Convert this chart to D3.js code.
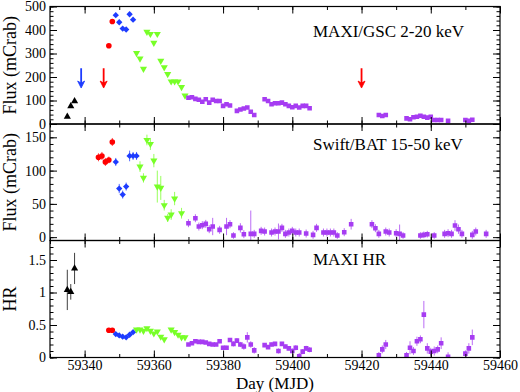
<!DOCTYPE html>
<html>
<head>
<meta charset="utf-8">
<script src="https://cdn.jsdelivr.net/npm/d3@7"></script>
<style>
  html, body { margin: 0; padding: 0; background: #fff; }
  svg { display: block; }
</style>
</head>
<body>
<svg id="chart" width="520" height="392"></svg>
<script>
// each row: [day (MJD), value, error]
const gscBlack = [[59335.0, 31, 4], [59336.0, 76, 5], [59337.1, 97, 5]];
const gscRed = [[59347, 333, 5], [59348, 436, 6]];
const gscBlue = [[59349, 463, 6], [59350, 433, 6], [59351, 406, 6], [59352, 402, 6], [59353, 467, 6], [59354, 444, 6]];
const gscGreen = [[59355, 302, 5], [59356, 278, 5], [59357, 235, 5], [59358, 392, 6], [59359, 383, 6],
  [59360, 345, 6], [59361, 383, 6], [59362, 269, 5], [59363, 241, 5], [59364, 212, 5], [59365, 181, 5],
  [59366, 181, 5], [59367, 181, 5], [59368, 157, 5], [59369, 121, 4]];
const gscPurple = [[59370, 112, 4], [59371, 114, 4], [59372, 107, 4], [59373, 103, 4], [59374, 95, 4],
  [59375, 105, 4], [59376, 91, 4], [59377, 103, 4], [59378, 98, 4], [59379, 98, 4], [59380, 77, 4],
  [59381, 84, 4], [59382, 79, 4], [59384, 56, 4], [59385, 62, 4], [59386, 66, 4], [59387, 70, 4],
  [59388, 52, 4], [59389, 38, 4], [59392, 105, 4], [59393, 98, 4], [59394, 84, 4], [59395, 88, 4],
  [59396, 88, 4], [59397, 91, 4], [59398, 84, 4], [59399, 77, 4], [59400, 71, 4], [59401, 77, 4],
  [59402, 70, 4], [59403, 77, 4], [59404, 77, 4], [59405, 67, 4], [59425, 38, 4], [59426, 34, 4],
  [59427, 38, 4], [59433, 24, 4], [59434, 20, 4], [59435, 29, 4], [59436, 31, 4], [59437, 35, 4],
  [59438, 31, 4], [59439, 27, 4], [59440, 31, 4], [59441, 17, 4], [59442, 17, 4], [59443, 17, 4],
  [59445, 14, 4], [59450, 17, 4], [59451, 14, 4], [59452, 18, 4]];
const arrowBlueDays = [59339];
const arrowRedDays = [59345.5, 59420];
const arrowFrom = 237, arrowTo = 153;

const batRed = [[59344, 120, 6], [59345, 122, 6], [59346, 113, 6], [59347, 116, 5], [59348, 143, 6]];
const batBlue = [[59349, 113, 6], [59350, 73, 7], [59351, 64, 6], [59352, 76, 6], [59353, 122, 8],
  [59354, 122, 6], [59355, 122, 6]];
const batGreen = [[59356, 106, 8], [59357, 89, 7], [59358, 146, 8], [59359, 140, 9], [59360, 115, 10],
  [59361, 76, 24], [59362, 74, 18], [59363, 48, 8], [59364, 29, 6], [59365, 34, 8], [59366, 58, 10],
  [59368, 36, 8]];
const batPurple = [[59370, 21, 6], [59372, 28.5, 6], [59373, 16, 6], [59374, 18, 6], [59375, 20, 6],
  [59376, 12, 6], [59377, 16, 13], [59379, 11, 6], [59381, 16, 13], [59382, 19.5, 6], [59383, 2.5, 5],
  [59385, 14, 7], [59386, 4.5, 6], [59388, 5, 35], [59389, 5, 6], [59391, 9.5, 6], [59392, 8.5, 6],
  [59394, 7, 6], [59395, 8.5, 6], [59396, 8.5, 12], [59397, 14, 6], [59398, 5, 6], [59399, 7, 6],
  [59400, 9.5, 6], [59401, 7, 6], [59402, 7, 6], [59404, 5.5, 6], [59406, 3.5, 6], [59407, 14, 6],
  [59409, 7, 6], [59410, 7, 6], [59411, 7, 6], [59412, 7, 6], [59413, 2.5, 5], [59415, 7.5, 6],
  [59417, 19.5, 8], [59423, 19.5, 6], [59424, 13.5, 6], [59425, 5, 6], [59427, 8.5, 6], [59428, 7, 6],
  [59430, 6, 6], [59431, 5, 14], [59432, 2.5, 5], [59437, 2.5, 5], [59438, 3.5, 5], [59439, 4.5, 5],
  [59441, 2.5, 5], [59444, 5, 6], [59445, 6, 6], [59446, 5, 6], [59447, 17.5, 8], [59448, 12, 7],
  [59449, 5, 6], [59452, 3.5, 6], [59453, 8.5, 6], [59456, 5, 6]];

const hrBlack = [[59335, 1.04, 0.31], [59336, 1.01, 0.12], [59337.1, 1.37, 0.24]];
const hrRed = [[59347, 0.42, 0.01], [59348, 0.42, 0.01]];
const hrBlue = [[59349, 0.36, 0.01], [59350, 0.34, 0.01], [59351, 0.32, 0.01], [59352, 0.31, 0.01],
  [59353, 0.35, 0.01], [59354, 0.39, 0.01]];
const hrGreen = [[59355, 0.43, 0.015], [59356, 0.43, 0.015], [59357, 0.41, 0.015], [59358, 0.45, 0.015],
  [59359, 0.41, 0.015], [59360, 0.37, 0.015], [59361, 0.40, 0.015], [59362, 0.32, 0.02], [59363, 0.28, 0.02],
  [59365, 0.43, 0.02], [59366, 0.39, 0.02], [59367, 0.35, 0.02], [59368, 0.31, 0.02], [59369, 0.31, 0.02]];
const hrPurple = [[59370, 0.20, 0.02], [59371, 0.22, 0.02], [59372, 0.25, 0.02], [59373, 0.24, 0.02],
  [59374, 0.24, 0.02], [59375, 0.23, 0.02], [59376, 0.21, 0.02], [59377, 0.20, 0.02], [59378, 0.20, 0.02],
  [59379, 0.25, 0.03], [59380, 0.15, 0.03], [59381, 0.15, 0.03], [59382, 0.27, 0.03], [59383, 0.21, 0.04],
  [59384, 0.26, 0.04], [59385, 0.20, 0.04], [59386, 0.17, 0.05], [59387, 0.31, 0.08], [59388, 0.20, 0.05],
  [59389, 0.11, 0.05], [59392, 0.19, 0.03], [59393, 0.16, 0.03], [59394, 0.20, 0.03], [59395, 0.21, 0.03],
  [59396, 0.10, 0.04], [59397, 0.21, 0.03], [59398, 0.17, 0.03], [59399, 0.14, 0.03], [59400, 0.10, 0.04],
  [59401, 0.15, 0.04], [59402, 0.02, 0.05], [59403, 0.09, 0.04], [59404, 0.14, 0.04], [59405, 0.12, 0.04],
  [59425, 0.035, 0.05], [59426, 0.125, 0.06], [59427, 0.20, 0.07], [59433, 0.035, 0.05], [59434, 0.15, 0.10],
  [59435, 0.10, 0.06], [59436, 0.25, 0.07], [59437, 0.28, 0.06], [59438, 0.66, 0.21], [59439, 0.14, 0.08],
  [59440, 0.09, 0.06], [59441, 0.10, 0.07], [59442, 0.125, 0.06], [59443, 0.22, 0.09], [59445, 0.01, 0.07],
  [59450, 0.06, 0.05], [59451, 0.14, 0.08], [59452, 0.31, 0.12]];

const xTicksMajor = [59340, 59360, 59380, 59400, 59420, 59440, 59460];
const xTicksMinor = d3.range(59330, 59461, 10);

const BLACK = "#000", RED = "#ff0000", BLUE = "#1e3cff", GREEN = "#78ff28", PURPLE = "#a63cf2";
const serif = '"Liberation Serif", "Times New Roman", serif';

const svg = d3.select("#chart");
const L = 50, R = 500;
const x = d3.scaleLinear().domain([59330, 59460]).range([L, R]);

const panels = [
  { top: 6.5, bottom: 124, domain: [0, 500], major: d3.range(0, 501, 100), minor: d3.range(0, 501, 20),
    title: "MAXI/GSC 2-20 keV", titleY: 37, label: "Flux (mCrab)",
    series: [[gscBlack, BLACK, "up"], [gscRed, RED, "circle"], [gscBlue, BLUE, "diamond"],
             [gscGreen, GREEN, "down"], [gscPurple, PURPLE, "square"]], xerr: 0 },
  { top: 124, bottom: 240.5, domain: [-5, 170], major: [0, 50, 100, 150], minor: d3.range(0, 171, 10),
    title: "Swift/BAT 15-50 keV", titleY: 150, label: "Flux (mCrab)",
    series: [[batRed, RED, "circle"], [batBlue, BLUE, "diamond"], [batGreen, GREEN, "down"],
             [batPurple, PURPLE, "square"]], xerr: 0.5 },
  { top: 240.5, bottom: 357.5, domain: [0, 1.8], major: [0, 0.5, 1, 1.5], minor: d3.range(0, 18).map(d => d / 10),
    title: "MAXI HR", titleY: 265, label: "HR",
    series: [[hrBlack, BLACK, "up"], [hrRed, RED, "circle"], [hrBlue, BLUE, "diamond"],
             [hrGreen, GREEN, "down"], [hrPurple, PURPLE, "square"]], xerr: 0 }
];

function marker(shape) {
  if (shape === "circle") return d3.symbol(d3.symbolCircle, 25)();
  if (shape === "square") return d3.symbol(d3.symbolSquare, 21)();
  if (shape === "diamond") return d3.symbol(d3.symbolSquare, 20)();
  return d3.symbol(d3.symbolTriangle, 22)();
}
function markerRot(shape) {
  if (shape === "diamond") return " rotate(45)";
  if (shape === "down") return " rotate(180)";
  return "";
}

function styleAxis(g) {
  g.select(".domain").remove();
  g.attr("font-family", serif).attr("font-size", 14);
  g.selectAll("line").attr("stroke", "#000");
  g.selectAll("text").attr("fill", "#000");
}

panels.forEach((p, i) => {
  const y = d3.scaleLinear().domain(p.domain).range([p.bottom, p.top]);
  const clipId = "clip" + i;
  svg.append("clipPath").attr("id", clipId)
    .append("rect").attr("x", L).attr("y", p.top).attr("width", R - L).attr("height", p.bottom - p.top);

  const plot = svg.append("g").attr("clip-path", `url(#${clipId})`);

  p.series.forEach(([data, color, shape]) => {
    // error bars
    plot.append("g").selectAll("line").data(data).join("line")
      .attr("x1", d => x(d[0])).attr("x2", d => x(d[0]))
      .attr("y1", d => y(d[1] - d[2])).attr("y2", d => y(d[1] + d[2]))
      .attr("stroke", color).attr("stroke-width", 1).attr("opacity", 0.75);
    if (p.xerr) {
      plot.append("g").selectAll("line").data(data).join("line")
        .attr("x1", d => x(d[0] - p.xerr)).attr("x2", d => x(d[0] + p.xerr))
        .attr("y1", d => y(d[1])).attr("y2", d => y(d[1]))
        .attr("stroke", color).attr("stroke-width", 1);
    }
    plot.append("g").selectAll("path").data(data).join("path")
      .attr("d", marker(shape))
      .attr("transform", d => `translate(${x(d[0])},${y(d[1])})` + markerRot(shape))
      .attr("fill", color);
  });

  if (i === 0) {
    const arrows = arrowBlueDays.map(d => [d, BLUE]).concat(arrowRedDays.map(d => [d, RED]));
    arrows.forEach(([day, color]) => {
      const ax = x(day), y0 = y(arrowFrom), y1 = y(arrowTo);
      plot.append("line").attr("x1", ax).attr("x2", ax).attr("y1", y0).attr("y2", y1 - 4)
        .attr("stroke", color).attr("stroke-width", 1.8);
      plot.append("path")
        .attr("d", `M${ax - 3.5},${y1 - 7} L${ax},${y1} L${ax + 3.5},${y1 - 7} L${ax},${y1 - 5} Z`)
        .attr("fill", color).attr("stroke", color).attr("stroke-width", 0.8);
    });
  }

  // axes: inward ticks on all four sides
  const fmt = d => String(d);
  svg.append("g").attr("transform", `translate(${L},0)`)
    .call(d3.axisLeft(y).tickValues(p.major).tickSize(-7).tickPadding(4).tickFormat(fmt)).call(styleAxis);
  svg.append("g").attr("transform", `translate(${L},0)`)
    .call(d3.axisLeft(y).tickValues(p.minor).tickSize(-3.5).tickFormat("")).call(styleAxis);
  svg.append("g").attr("transform", `translate(${R},0)`)
    .call(d3.axisRight(y).tickValues(p.major).tickSize(-7).tickFormat("")).call(styleAxis);
  svg.append("g").attr("transform", `translate(${R},0)`)
    .call(d3.axisRight(y).tickValues(p.minor).tickSize(-3.5).tickFormat("")).call(styleAxis);

  svg.append("g").attr("transform", `translate(0,${p.top})`)
    .call(d3.axisTop(x).tickValues(xTicksMajor).tickSize(-7).tickFormat("")).call(styleAxis);
  svg.append("g").attr("transform", `translate(0,${p.top})`)
    .call(d3.axisTop(x).tickValues(xTicksMinor).tickSize(-3.5).tickFormat("")).call(styleAxis);
  svg.append("g").attr("transform", `translate(0,${p.bottom})`)
    .call(d3.axisBottom(x).tickValues(xTicksMajor).tickSize(-7).tickPadding(3)
      .tickFormat(i === 2 ? fmt : "")).call(styleAxis);
  svg.append("g").attr("transform", `translate(0,${p.bottom})`)
    .call(d3.axisBottom(x).tickValues(xTicksMinor).tickSize(-3.5).tickFormat("")).call(styleAxis);

  svg.append("rect").attr("x", L).attr("y", p.top).attr("width", R - L).attr("height", p.bottom - p.top)
    .attr("fill", "none").attr("stroke", "#000").attr("stroke-width", 1.2);

  svg.append("text").attr("x", 313).attr("y", p.titleY)
    .attr("font-family", serif).attr("font-size", 17).text(p.title);

  svg.append("text")
    .attr("transform", `translate(16,${(p.top + p.bottom) / 2}) rotate(-90)`)
    .attr("text-anchor", "middle")
    .attr("font-family", serif).attr("font-size", 18).text(p.label);
});

svg.append("text").attr("x", 275).attr("y", 389).attr("text-anchor", "middle")
  .attr("font-family", serif).attr("font-size", 17).text("Day (MJD)");
</script>
</body>
</html>
